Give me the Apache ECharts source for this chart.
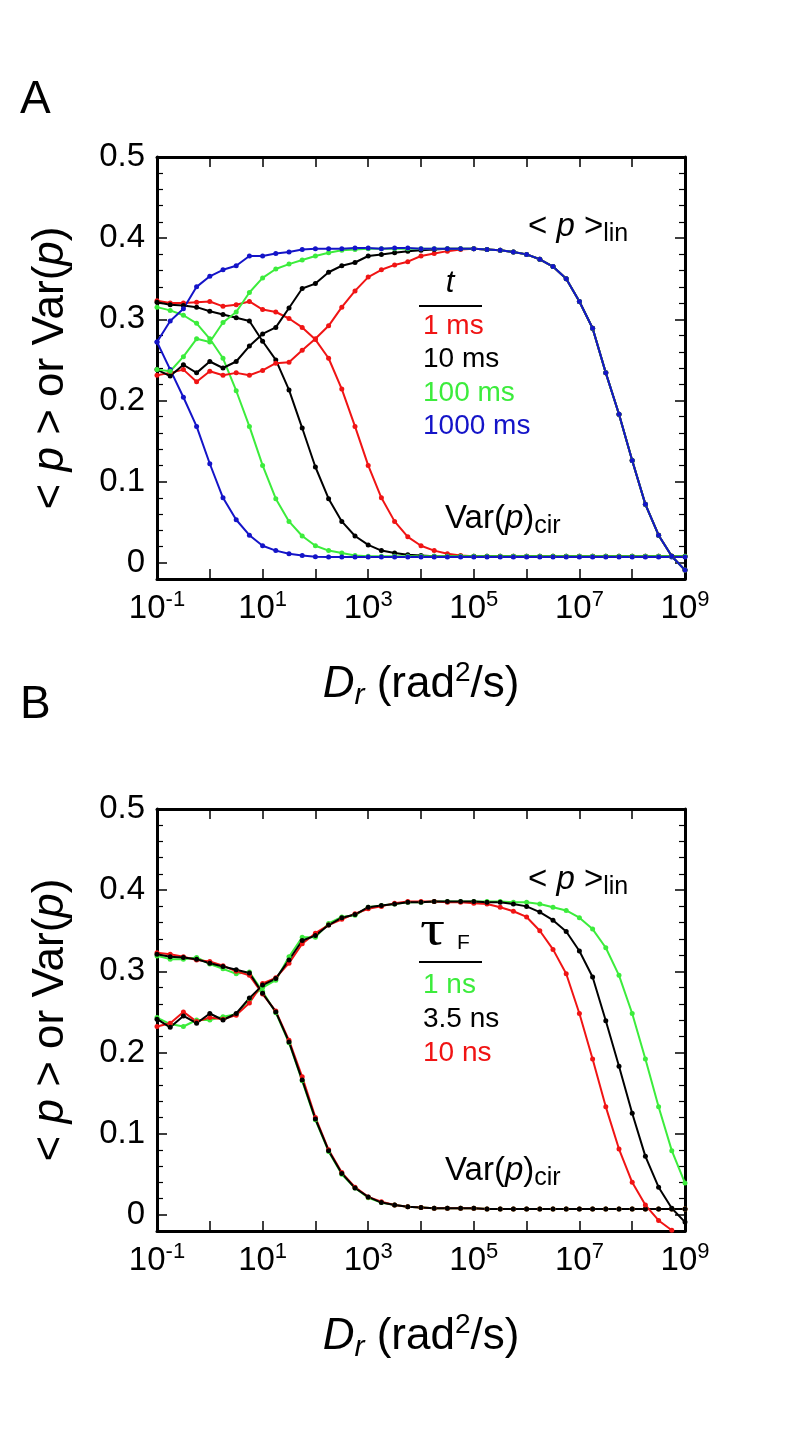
<!DOCTYPE html>
<html><head><meta charset="utf-8">
<script src="https://cdn.jsdelivr.net/npm/echarts@6/dist/echarts.min.js"></script>
<style>html,body{margin:0;padding:0;background:#fff}#c{width:791px;height:1443px}</style>
</head><body><div id="c"></div>
<script>
// log10(Dr) sample positions
const logD = [-1,-0.75,-0.5,-0.25,0,0.25,0.5,0.75,1,1.25,1.5,1.75,2,2.25,2.5,2.75,3,3.25,3.5,3.75,4,4.25,4.5,4.75,5,5.25,5.5,5.75,6,6.25,6.5,6.75,7,7.25,7.5,7.75,8,8.25,8.5,8.75,9];

// Panel A : <p>lin
const aRedLin   = [0.231,0.234,0.238,0.223,0.236,0.231,0.234,0.231,0.237,0.246,0.247,0.262,0.276,0.292,0.315,0.335,0.352,0.361,0.367,0.371,0.378,0.381,0.384,0.386,0.387,0.386,0.385,0.383,0.380,0.374,0.365,0.350,0.322,0.289,0.234,0.183,0.126,0.072,0.034,0.008,-0.009];
const aBlackLin = [0.238,0.230,0.244,0.234,0.248,0.240,0.248,0.267,0.282,0.290,0.314,0.338,0.344,0.358,0.366,0.370,0.378,0.380,0.382,0.384,0.385,0.386,0.387,0.387,0.387,0.386,0.385,0.383,0.380,0.374,0.365,0.350,0.322,0.289,0.234,0.183,0.126,0.072,0.034,0.008,-0.009];
const aGreenLin = [0.238,0.236,0.254,0.276,0.272,0.296,0.309,0.333,0.351,0.362,0.368,0.373,0.378,0.382,0.385,0.386,0.387,0.387,0.387,0.387,0.387,0.387,0.387,0.387,0.387,0.386,0.385,0.383,0.380,0.374,0.365,0.350,0.322,0.289,0.234,0.183,0.126,0.072,0.034,0.008,-0.009];
const aBlueLin  = [0.272,0.298,0.313,0.340,0.353,0.361,0.366,0.378,0.378,0.381,0.383,0.386,0.387,0.387,0.387,0.388,0.388,0.387,0.388,0.388,0.387,0.387,0.387,0.387,0.387,0.386,0.385,0.383,0.380,0.374,0.365,0.350,0.322,0.289,0.234,0.183,0.126,0.072,0.034,0.008,-0.009];
// Panel A : Var(p)cir
const aRedVar   = [0.323,0.320,0.320,0.321,0.322,0.316,0.318,0.322,0.312,0.309,0.301,0.290,0.275,0.252,0.214,0.168,0.120,0.080,0.051,0.032,0.021,0.015,0.011,0.009,0.008,0.008,0.008,0.008,0.008,0.008,0.008,0.008,0.008,0.008,0.008,0.008,0.008,0.008,0.008,0.008,0.008];
const aBlackVar = [0.321,0.318,0.317,0.315,0.310,0.306,0.302,0.298,0.273,0.250,0.213,0.166,0.118,0.079,0.051,0.033,0.022,0.015,0.012,0.010,0.009,0.008,0.008,0.008,0.008,0.008,0.008,0.008,0.008,0.008,0.008,0.008,0.008,0.008,0.008,0.008,0.008,0.008,0.008,0.008,0.008];
const aGreenVar = [0.315,0.311,0.305,0.295,0.276,0.252,0.212,0.168,0.120,0.079,0.051,0.033,0.021,0.015,0.012,0.009,0.008,0.008,0.008,0.008,0.008,0.008,0.008,0.008,0.008,0.008,0.008,0.008,0.008,0.008,0.008,0.008,0.008,0.008,0.008,0.008,0.008,0.008,0.008,0.008,0.008];
const aBlueVar  = [0.272,0.238,0.204,0.168,0.122,0.080,0.053,0.034,0.021,0.015,0.011,0.009,0.0075,0.007,0.007,0.007,0.007,0.007,0.007,0.007,0.007,0.007,0.007,0.007,0.007,0.007,0.007,0.007,0.007,0.007,0.007,0.007,0.007,0.007,0.007,0.007,0.007,0.007,0.007,0.007,0.007];

// Panel B : <p>lin
const bGreenLin = [0.243,0.235,0.232,0.240,0.240,0.244,0.247,0.266,0.280,0.289,0.318,0.342,0.342,0.359,0.367,0.369,0.379,0.381,0.383,0.385,0.385,0.386,0.386,0.386,0.386,0.386,0.386,0.385,0.385,0.383,0.379,0.375,0.366,0.352,0.329,0.295,0.248,0.192,0.133,0.079,0.039];
const bRedLin   = [0.232,0.236,0.250,0.238,0.243,0.241,0.246,0.261,0.285,0.292,0.310,0.334,0.347,0.357,0.364,0.371,0.377,0.380,0.384,0.386,0.386,0.386,0.385,0.385,0.384,0.383,0.379,0.374,0.367,0.350,0.327,0.297,0.248,0.192,0.133,0.081,0.040,0.012,-0.007,-0.019,null];
const bBlackLin = [0.241,0.231,0.245,0.236,0.248,0.240,0.248,0.267,0.283,0.291,0.314,0.338,0.344,0.357,0.366,0.370,0.379,0.381,0.383,0.385,0.385,0.386,0.386,0.386,0.386,0.385,0.385,0.383,0.380,0.373,0.363,0.349,0.325,0.293,0.239,0.183,0.125,0.072,0.034,0.008,-0.009];
// Panel B : Var(p)cir
const bGreenVar = [0.319,0.315,0.315,0.317,0.309,0.303,0.297,0.299,0.275,0.249,0.212,0.165,0.117,0.078,0.050,0.033,0.021,0.015,0.012,0.010,0.009,0.008,0.008,0.008,0.008,0.007,0.007,0.007,0.007,0.007,0.007,0.007,0.007,0.007,0.007,0.007,0.007,0.007,0.007,0.007,0.007];
const bRedVar   = [0.323,0.321,0.318,0.314,0.312,0.307,0.300,0.295,0.272,0.251,0.215,0.170,0.120,0.080,0.052,0.034,0.022,0.016,0.012,0.010,0.009,0.008,0.008,0.008,0.008,0.007,0.007,0.007,0.007,0.007,0.007,0.007,0.007,0.007,0.007,0.007,0.007,0.007,0.007,0.007,0.007];
const bBlackVar = [0.321,0.318,0.317,0.315,0.310,0.306,0.302,0.298,0.273,0.250,0.213,0.166,0.118,0.079,0.051,0.033,0.022,0.015,0.012,0.010,0.009,0.008,0.008,0.008,0.008,0.007,0.007,0.007,0.007,0.007,0.007,0.007,0.007,0.007,0.007,0.007,0.007,0.007,0.007,0.007,0.007];

// ticks
const yTicks = [0,0.1,0.2,0.3,0.4,0.5];
const yMinorTicks = [0.02,0.04,0.06,0.08,0.12,0.14,0.16,0.18,0.22,0.24,0.26,0.28,0.32,0.34,0.36,0.38,0.42,0.44,0.46,0.48];
const xLabelledExp = [-1,1,3,5,7,9];

const legendA = ['1 ms','10 ms','100 ms','1000 ms'];
const legendB = ['1 ns','3.5 ns','10 ns'];

const FONT = '"Liberation Sans", Arial, Helvetica, sans-serif';
const RED = '#f01414', BLACK = '#000000', GREEN = '#3cec3c', BLUE = '#1414c8';

const GRID_TOP = [157, 809];

function pair(arr){ return logD.map((x,i)=>[x, arr[i]]); }

const grid = GRID_TOP.map(t=>({left:157, top:t, width:528, height:422, containLabel:false, outerBoundsMode:'none'}));

const lineBlk = {show:true, onZero:false, lineStyle:{color:'#000', width:3}};
const noLine = {show:false, onZero:false};
const xAxis = [], yAxis = [];
for (let g=0; g<2; g++){
  xAxis.push({
    gridIndex:g, type:'value', min:-1, max:9, interval:1, position:'bottom',
    axisLine:lineBlk, splitLine:{show:false},
    axisTick:{show:true, inside:true, length:10, lineStyle:{color:'#000', width:1.5}},
    axisLabel:{
      margin:10, color:'#000', fontFamily:FONT, fontSize:33, lineHeight:40,
      formatter:(v)=>{ const n=Math.round(v); return xLabelledExp.indexOf(n)>=0 ? '{b|10}{s|'+n+'}' : ''; },
      rich:{ b:{fontSize:33, fontFamily:FONT, lineHeight:40, color:'#000'},
             s:{fontSize:22, fontFamily:FONT, lineHeight:16, verticalAlign:'top', color:'#000'} }
    },
    name:'{i|D}{r|r} (rad{s|2}/s)', nameLocation:'middle', nameGap:80,
    nameTextStyle:{color:'#000', fontFamily:FONT, fontSize:44, lineHeight:52,
      rich:{ i:{fontStyle:'italic', fontSize:44, fontFamily:FONT, lineHeight:52, color:'#000'},
             r:{fontStyle:'italic', fontSize:30, fontFamily:FONT, lineHeight:26, verticalAlign:'bottom', color:'#000'},
             s:{fontSize:28, fontFamily:FONT, lineHeight:22, verticalAlign:'top', color:'#000'} } }
  });
  xAxis.push({
    gridIndex:g, type:'value', min:-1, max:9, interval:1, position:'top',
    axisLine:lineBlk, splitLine:{show:false},
    axisTick:{show:true, inside:true, length:10, lineStyle:{color:'#000', width:1.5}},
    axisLabel:{show:false}
  });
  // left major
  yAxis.push({
    gridIndex:g, type:'value', min:-0.02, max:0.5, position:'left',
    axisLine:lineBlk, splitLine:{show:false},
    axisTick:{show:true, inside:true, length:10, customValues:yTicks, lineStyle:{color:'#000', width:1.5}},
    axisLabel:{customValues:yTicks, margin:12, color:'#000', fontFamily:FONT, fontSize:33,
      formatter:(v)=> (Math.abs(v)<1e-9 ? '0' : v.toFixed(1))},
    name:'< {i|p} > or Var({i|p})', nameLocation:'middle', nameRotate:90, nameGap:80,
    nameTextStyle:{color:'#000', fontFamily:FONT, fontSize:44, lineHeight:52,
      rich:{ i:{fontStyle:'italic', fontSize:44, fontFamily:FONT, lineHeight:52, color:'#000'} } }
  });
  // left minor
  yAxis.push({
    gridIndex:g, type:'value', min:-0.02, max:0.5, position:'left',
    axisLine:noLine, splitLine:{show:false},
    axisTick:{show:true, inside:true, length:6, customValues:yMinorTicks, lineStyle:{color:'#000', width:1.2}},
    axisLabel:{show:false, customValues:yMinorTicks}
  });
  // right major
  yAxis.push({
    gridIndex:g, type:'value', min:-0.02, max:0.5, position:'right',
    axisLine:lineBlk, splitLine:{show:false},
    axisTick:{show:true, inside:true, length:10, customValues:yTicks, lineStyle:{color:'#000', width:1.5}},
    axisLabel:{show:false, customValues:yTicks}
  });
  // right minor
  yAxis.push({
    gridIndex:g, type:'value', min:-0.02, max:0.5, position:'right',
    axisLine:noLine, splitLine:{show:false},
    axisTick:{show:true, inside:true, length:6, customValues:yMinorTicks, lineStyle:{color:'#000', width:1.2}},
    axisLabel:{show:false, customValues:yMinorTicks}
  });
}

function ser(g, arr, color, name){
  return {type:'line', name, xAxisIndex:2*g, yAxisIndex:4*g, data:pair(arr),
    symbol:'circle', symbolSize:5, showSymbol:true, clip:true,
    lineStyle:{color, width:2}, itemStyle:{color}, emphasis:{disabled:true}, z:2};
}

const series = [
  ser(0, aRedVar, RED, 'A red var'), ser(0, aBlackVar, BLACK, 'A black var'),
  ser(0, aGreenVar, GREEN, 'A green var'), ser(0, aBlueVar, BLUE, 'A blue var'),
  ser(0, aRedLin, RED, 'A red lin'), ser(0, aBlackLin, BLACK, 'A black lin'),
  ser(0, aGreenLin, GREEN, 'A green lin'), ser(0, aBlueLin, BLUE, 'A blue lin'),
  ser(1, bGreenVar, GREEN, 'B green var'), ser(1, bRedVar, RED, 'B red var'), ser(1, bBlackVar, BLACK, 'B black var'),
  ser(1, bGreenLin, GREEN, 'B green lin'), ser(1, bRedLin, RED, 'B red lin'), ser(1, bBlackLin, BLACK, 'B black lin')
];

function txt(x, y, text, size, fill, extra, el){
  return Object.assign({type:'text', x, y, z:10, silent:true,
    style:Object.assign({text, fontSize:size, fontFamily:FONT, fill, align:'left', verticalAlign:'middle'}, extra||{})}, el||{});
}
const richLab = {
  i:{fontStyle:'italic', fontSize:33, fontFamily:FONT, lineHeight:40, fill:'#000'},
  s:{fontSize:25, fontFamily:FONT, lineHeight:20, verticalAlign:'bottom', fill:'#000'}
};
const colorsA = [RED, BLACK, GREEN, BLUE];
const colorsB = [GREEN, BLACK, RED];
const graphic = [
  txt(20, 100, 'A', 46, '#000'),
  txt(20, 705, 'B', 46, '#000'),
  // panel A annotations
  txt(528, 227, '< {i|p} >{s|lin}', 33, '#000', {lineHeight:40, rich:richLab}),
  txt(445, 519, 'Var({i|p}){s|cir}', 33, '#000', {lineHeight:40, rich:richLab}),
  txt(450, 283, 't', 31, '#000', {fontStyle:'italic', align:'center'}),
  {type:'line', z:10, silent:true, shape:{x1:419, y1:306, x2:482, y2:306}, style:{stroke:'#000', lineWidth:2}},
  // panel B annotations
  txt(528, 880, '< {i|p} >{s|lin}', 33, '#000', {lineHeight:40, rich:richLab}),
  txt(445, 1171, 'Var({i|p}){s|cir}', 33, '#000', {lineHeight:40, rich:richLab}),
  txt(420, 932, 'τ', 50, '#000', {fontFamily:'"Liberation Serif", "DejaVu Serif", serif'}, {scaleX:1.25}),
  txt(457, 943, 'F', 21, '#000'),
  {type:'line', z:10, silent:true, shape:{x1:419, y1:962, x2:482, y2:962}, style:{stroke:'#000', lineWidth:2}}
];
const legAy = [326, 359, 393, 426];
legendA.forEach((s,i)=>graphic.push(txt(423, legAy[i], s, 28, colorsA[i])));
const legBy = [985, 1019, 1053];
legendB.forEach((s,i)=>graphic.push(txt(423, legBy[i], s, 28, colorsB[i])));

const chart = echarts.init(document.getElementById('c'), null, {renderer:'canvas'});
chart.setOption({animation:false, backgroundColor:'#fff', grid, xAxis, yAxis, series, graphic});
</script></body></html>
